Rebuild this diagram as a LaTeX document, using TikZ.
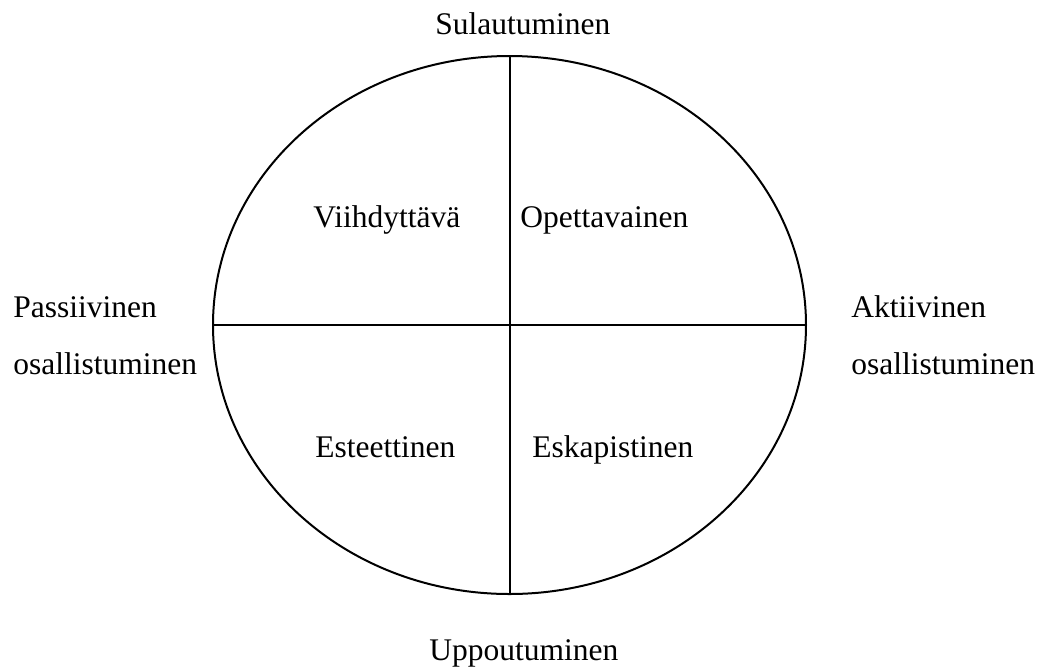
\documentclass[tikz,border=0pt]{standalone}
\usepackage{fontspec}
\setmainfont{Liberation Serif}
\usetikzlibrary{shapes.geometric}
\begin{document}
\begin{tikzpicture}[x=0.5pt,y=-0.5pt,
	every node/.style={font=\fontsize{15.75}{28.5}\selectfont,inner sep=0pt},
	lbl/.style={anchor=base west}]
	\useasboundingbox (0,0) rectangle (1041,666);
	\node[draw,ellipse,line width=1pt,minimum width=296.5pt,minimum height=269pt] (e) at (509.5,325) {};
	\draw[line width=1pt] (e.north) -- (e.south);
	\draw[line width=1pt] (e.west) -- (e.east);
	\node[lbl] (top) at (435,34) {Sulautuminen};
	\node[lbl] (bot) at (429,660) {Uppoutuminen};
	\node[lbl] (pas) at (13,317) {Passiivinen};
	\node[lbl] (pasb) at (13,374) {osallistuminen};
	\node[lbl] (akt) at (851,317) {Aktiivinen};
	\node[lbl] (aktb) at (851,374) {osallistuminen};
	\node[lbl] (q1) at (313,227) {Viihdyttävä};
	\node[lbl] (q2) at (520,227) {Opettavainen};
	\node[lbl] (q3) at (315,457) {Esteettinen};
	\node[lbl] (q4) at (532,457) {Eskapistinen};
\end{tikzpicture}
\end{document}
